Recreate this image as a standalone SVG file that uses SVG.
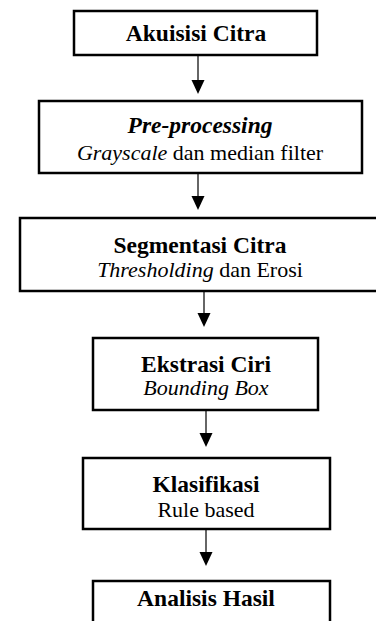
<svg xmlns="http://www.w3.org/2000/svg" width="376" height="621" viewBox="0 0 376 621">
<defs>
<style>
.box{fill:#fff;stroke:#000;stroke-width:2.5}
.t{font-family:"Liberation Serif","Times New Roman",serif;font-size:22px;fill:#000;text-anchor:middle}
.b{font-weight:bold;font-size:23.5px}
.i{font-style:italic}
.conn{stroke:#333;stroke-width:1.5;fill:none}
.head{fill:#000}
</style>
</defs>
<rect width="376" height="621" fill="#fff"/>
<g id="connectors">
<line class="conn" x1="198" y1="55" x2="198" y2="82"/>
<polygon class="head" points="191.5,80 204.5,80 198,94"/>
<line class="conn" x1="198" y1="173" x2="198" y2="198"/>
<polygon class="head" points="191.5,196 204.5,196 198,210"/>
<line class="conn" x1="204" y1="291" x2="204" y2="315"/>
<polygon class="head" points="197.5,313 210.5,313 204,327"/>
<line class="conn" x1="206" y1="410" x2="206" y2="435"/>
<polygon class="head" points="199.5,433 212.5,433 206,447"/>
<line class="conn" x1="206" y1="529" x2="206" y2="554"/>
<polygon class="head" points="199.5,552 212.5,552 206,566"/>
</g>
<g id="akuisisi">
<rect class="box" x="74" y="11" width="243" height="44"/>
<text class="t b" x="196" y="41">Akuisisi Citra</text>
</g>
<g id="preprocessing">
<rect class="box" x="39" y="101" width="323" height="72"/>
<text class="t b i" x="200" y="133">Pre-processing</text>
<text class="t" x="200" y="160"><tspan class="i">Grayscale</tspan> dan median filter</text>
</g>
<g id="segmentasi">
<rect class="box" x="20" y="218" width="364" height="73"/>
<text class="t b" x="200" y="253">Segmentasi Citra</text>
<text class="t" x="200" y="277"><tspan class="i">Thresholding</tspan> dan Erosi</text>
</g>
<g id="ekstrasi">
<rect class="box" x="93" y="338" width="225" height="72"/>
<text class="t b" x="206" y="372">Ekstrasi Ciri</text>
<text class="t i" x="206" y="395">Bounding Box</text>
</g>
<g id="klasifikasi">
<rect class="box" x="83" y="458" width="247" height="71"/>
<text class="t b" x="206" y="492">Klasifikasi</text>
<text class="t" x="206" y="517">Rule based</text>
</g>
<g id="analisis">
<rect class="box" x="93" y="581" width="237" height="60"/>
<text class="t b" x="206" y="606">Analisis Hasil</text>
</g>
</svg>
